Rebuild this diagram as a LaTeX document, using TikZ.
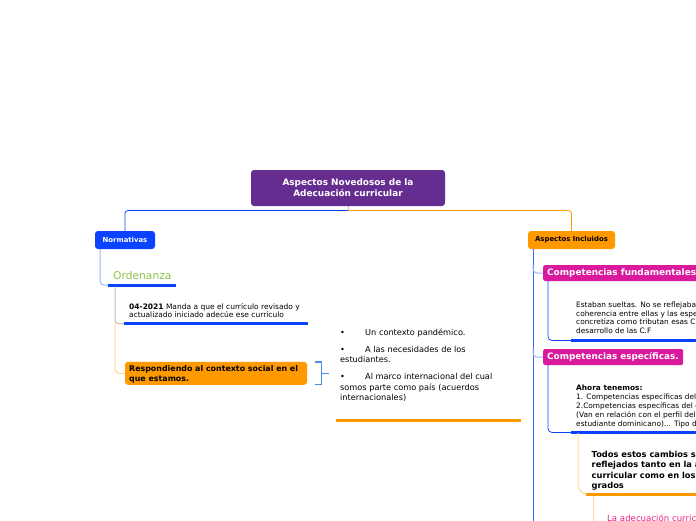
\documentclass[tikz,border=0pt]{standalone}
\usepackage{fontspec}
\setmainfont{DejaVu Sans}
\definecolor{cpurple}{HTML}{662D91}
\definecolor{cblue}{HTML}{0A43FF}
\definecolor{cblue2}{HTML}{3A6BFF}
\definecolor{clblue}{HTML}{9DB2FF}
\definecolor{cbrack}{HTML}{4A90E2}
\definecolor{corange}{HTML}{FF9900}
\definecolor{clorange}{HTML}{FFD699}
\definecolor{ctan}{HTML}{C9B8B0}
\definecolor{cmag}{HTML}{D91A9C}
\definecolor{cgreen}{HTML}{8BC34A}
\definecolor{cpink}{HTML}{E8217A}
\tikzset{
  box/.style={rounded corners=3pt, inner sep=0pt, align=center},
  txt/.style={anchor=base west, inner sep=0pt},
  ulblue/.style={draw=cblue, line width=3pt},
  ulorange/.style={draw=corange, line width=3pt},
  conblue/.style={draw=cblue, line width=0.8pt},
  conblue2/.style={draw=cblue2, line width=1pt},
  conlblue/.style={draw=clblue, line width=1pt},
  conorange/.style={draw=corange, line width=0.8pt},
  conlorange/.style={draw=clorange, line width=1pt},
  contan/.style={draw=ctan, line width=1pt},
  bt/.style={txt, font=\fontsize{8.2}{9}\selectfont},
  st/.style={txt, font=\fontsize{7.4}{8}\selectfont},
  tt/.style={txt, font=\bfseries\fontsize{8.3}{9}\selectfont},
}
\begin{document}
\begin{tikzpicture}[x=1pt,y=-1pt]
\useasboundingbox (0,0) rectangle (696,520);
\clip (0,0) rectangle (696,520);
% title
\node[box, fill=cpurple, text=white, minimum width=194pt, minimum height=36pt, font=\bfseries\fontsize{8.9}{11.2}\selectfont] (title) at (348,188) {Aspectos Novedosos de la\\Adecuación curricular};
% level 1
\node[box, fill=cblue, text=white, minimum width=60pt, minimum height=18pt, font=\bfseries\fontsize{6.9}{7}\selectfont] (norm) at (125,240) {Normativas};
\node[box, fill=corange, text=black, minimum width=87pt, minimum height=18pt, font=\bfseries\fontsize{6.9}{7}\selectfont] (asp) at (571.5,240) {Aspectos Incluidos};
\coordinate (split) at (348,210.5);
\draw[draw=ctan, line width=0.8pt] (title.south) -- (split);
\draw[conblue, rounded corners=3pt] (split) -| (norm.north);
\draw[conorange, rounded corners=3pt] (split) -| (asp.north);
% left branch
\node[txt, text=cgreen, font=\fontsize{10.7}{12}\selectfont] (ord) at (113,279) {Ordenanza};
\coordinate (ordA) at (108,285);
\coordinate (ordB) at (176,285);
\draw[ulblue] (ordA) -- (ordB);
\draw[conlblue, rounded corners=4pt] ([xshift=-25pt]norm.south) |- (ordA);
\node[txt, font=\fontsize{7.5}{8}\selectfont] (ley1) at (129,309) {\textbf{04-2021} Manda a que el currículo revisado y};
\node[txt, font=\fontsize{7.5}{8}\selectfont] (ley2) at (129,317.8) {actualizado iniciado adecúe ese currículo};
\coordinate (leyA) at (124,323.5);
\coordinate (leyB) at (308,323.5);
\draw[ulblue] (leyA) -- (leyB);
\coordinate (trunk) at (115,286.5);
\draw[contan, rounded corners=3pt] (trunk) |- (leyA);
\node[box, fill=corange, minimum width=182pt, minimum height=23pt] (resp) at (216,373.3) {};
\node[txt, font=\bfseries\fontsize{7.9}{8}\selectfont] (resp1) at (129,371.5) {Respondiendo al contexto social en el};
\node[txt, font=\bfseries\fontsize{7.9}{8}\selectfont] (resp2) at (129,381.5) {que estamos.};
\draw[conlorange, rounded corners=4pt] (115,323.5) |- (resp.west);
% bracket
\coordinate (brT) at (315,362);
\coordinate (brB) at (315,384.5);
\coordinate (brM) at (321.7,373.3);
\draw[draw=cbrack, line width=1.2pt] (brT) -- (321.7,362) -- (321.7,384.5) -- (brB);
\draw[draw=cbrack, line width=0.8pt] (brM) -- ++(7.5,0);
% bullets
\node[bt] (b1) at (340,335.5) {\textbullet};
\node[bt] (b1t) at (365,335.5) {Un contexto pandémico.};
\node[bt] (b2) at (340,352.5) {\textbullet};
\node[bt] (b2t) at (365,352.5) {A las necesidades de los};
\node[bt] (b2u) at (340,362.5) {estudiantes.};
\node[bt] (b3) at (340,379.5) {\textbullet};
\node[bt] (b3t) at (365,379.5) {Al marco internacional del cual};
\node[bt] (b3u) at (340,390) {somos parte como país (acuerdos};
\node[bt] (b3v) at (340,400.5) {internacionales)};
\coordinate (bulA) at (336,420);
\coordinate (bulB) at (521,420);
\draw[ulorange] (bulA) -- (bulB);
% right branch
\coordinate (rtrunk) at (533,249);
\draw[conblue2] (rtrunk) -- (533,522);
\node[anchor=west, fill=cmag, text=white, rounded corners=2pt, minimum height=16pt, inner ysep=0pt, inner xsep=4pt, font=\bfseries\fontsize{8.9}{10}\selectfont] (cf) at (543,273) {Competencias fundamentales.};
\draw[conlblue, rounded corners=4pt] (533,265) |- (cf.west);
\coordinate (cfA) at (572,340.5);
\draw[conblue, rounded corners=4pt] (548,281) |- (cfA);
\draw[ulblue] (571,340.5) -- (700,340.5);
\node[st] (e1) at (576,307.3) {Estaban sueltas. No se reflejaban la};
\node[st] (e2) at (576,316) {coherencia entre ellas y las específicas.};
\node[st] (e3) at (576,324.7) {concretiza como tributan esas C.E al};
\node[st] (e4) at (576,333.5) {desarrollo de las C.F};
\node[anchor=west, fill=cmag, text=white, rounded corners=2pt, minimum height=16pt, text width=132pt, inner ysep=0pt, inner xsep=4pt, font=\bfseries\fontsize{8.85}{10}\selectfont] (ce) at (543,357) {Competencias específicas.};
\draw[conlblue, rounded corners=4pt] (533,349) |- (ce.west);
\coordinate (ceA) at (572,432.5);
\draw[conblue, rounded corners=4pt] (548,365) |- (ceA);
\draw[ulblue] (571,432.5) -- (700,432.5);
\node[st, font=\bfseries\fontsize{7.4}{8}\selectfont] (a0) at (576,390.5) {Ahora tenemos:};
\node[st] (a1) at (576,399.5) {1. Competencias específicas del nivel};
\node[st] (a2) at (576,408.5) {2.Competencias específicas del grado};
\node[st] (a3) at (576,417.5) {(Van en relación con el perfil del};
\node[st] (a4) at (576,426.5) {estudiante dominicano)... Tipo de};
\coordinate (tA) at (592,494.5);
\draw[conlorange, rounded corners=10pt] (578,433) |- (tA);
\draw[ulorange] (586,494.5) -- (700,494.5);
\node[tt] (t1) at (591.5,457.3) {Todos estos cambios se ven};
\node[tt] (t2) at (591.5,467.8) {reflejados tanto en la adecuación};
\node[tt] (t3) at (591.5,478.3) {curricular como en los};
\node[tt] (t4) at (591.5,488.8) {grados};
\draw[conlorange] (593,496) -- (593,522);
\node[txt, text=cpink, font=\fontsize{8.6}{9}\selectfont] (la) at (607,521.5) {La adecuación curricular};
\end{tikzpicture}
\end{document}
